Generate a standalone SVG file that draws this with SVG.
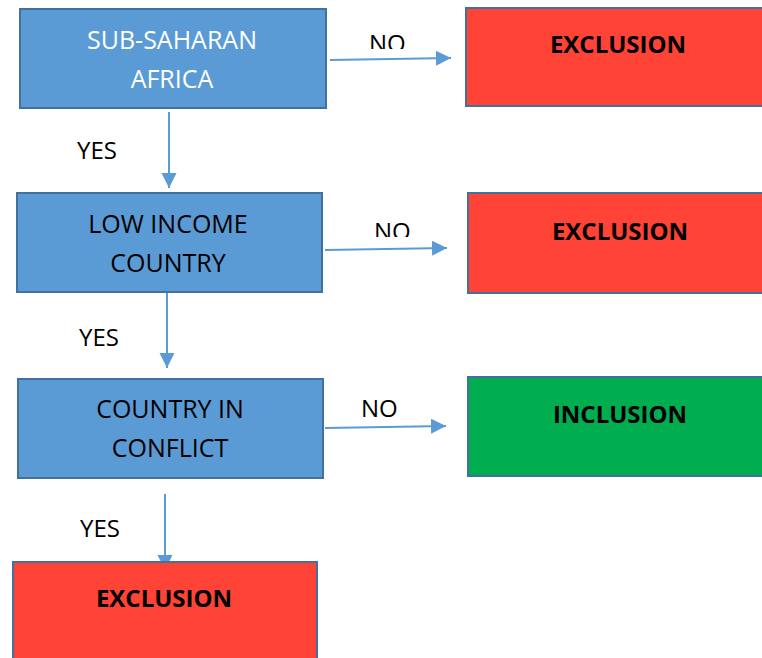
<svg xmlns="http://www.w3.org/2000/svg" width="762" height="658" viewBox="0 0 762 658">
<style>
.dec{fill:#5B9BD5;stroke:#41719C;stroke-width:2}
.red{fill:#FF4336;stroke:#41719C;stroke-width:2}
.grn{fill:#00AD4F;stroke:#41719C;stroke-width:2}
.t{font-family:"Open Sans","Liberation Sans",sans-serif;font-size:25px;text-anchor:middle;fill:#000}
.w{fill:#fff}
.b{font-weight:bold;font-size:24px}
.lbl{font-family:"Open Sans","Liberation Sans",sans-serif;font-size:24px;fill:#000}
.c{stroke:#5B9BD5;stroke-width:2;fill:none;marker-end:url(#ah)}
</style>
<defs>
<marker id="ah" markerUnits="userSpaceOnUse" markerWidth="16" markerHeight="16" refX="15" refY="7.5" orient="auto">
<path d="M0,0 L15,7.5 L0,15 Z" fill="#5B9BD5"/>
</marker>
<clipPath id="clipNo1"><rect x="350" y="0" width="80" height="49"/></clipPath>
<clipPath id="clipNo2"><rect x="350" y="200" width="80" height="37"/></clipPath>
</defs>
<g id="connectors">
<path class="c" d="M330,60 L451,58"/>
<path class="c" d="M169,112 L169,188"/>
<path class="c" d="M325,250 L447,248"/>
<path class="c" d="M167,292 L167,368"/>
<path class="c" d="M325,428 L446,426"/>
<path class="c" d="M165,494 L165,570"/>
<text class="lbl" x="369" y="52" clip-path="url(#clipNo1)">NO</text>
<text class="lbl" x="374" y="240" clip-path="url(#clipNo2)">NO</text>
<text class="lbl" x="361" y="417">NO</text>
<text class="lbl" x="77" y="159">YES</text>
<text class="lbl" x="79" y="346">YES</text>
<text class="lbl" x="80" y="537">YES</text>
</g>
<g id="n-subsaharan">
<rect class="dec" x="20" y="9" width="306" height="99"/>
<text class="t w" x="172" y="49">SUB-SAHARAN</text>
<text class="t w" x="172" y="88">AFRICA</text>
</g>
<g id="n-excl1">
<rect class="red" x="466" y="8" width="310" height="98"/>
<text class="t b" x="618" y="53">EXCLUSION</text>
</g>
<g id="n-lowincome">
<rect class="dec" x="17" y="193" width="305" height="99"/>
<text class="t" x="168" y="233">LOW INCOME</text>
<text class="t" x="168" y="272">COUNTRY</text>
</g>
<g id="n-excl2">
<rect class="red" x="468" y="193" width="310" height="100"/>
<text class="t b" x="620" y="240">EXCLUSION</text>
</g>
<g id="n-conflict">
<rect class="dec" x="18" y="379" width="305" height="99"/>
<text class="t" x="170" y="418">COUNTRY IN</text>
<text class="t" x="170" y="457">CONFLICT</text>
</g>
<g id="n-incl">
<rect class="grn" x="468" y="377" width="310" height="99"/>
<text class="t b" x="620" y="423">INCLUSION</text>
</g>
<g id="n-excl3">
<rect class="red" x="13" y="562" width="304" height="110"/>
<text class="t b" x="164" y="607">EXCLUSION</text>
</g>
</svg>
